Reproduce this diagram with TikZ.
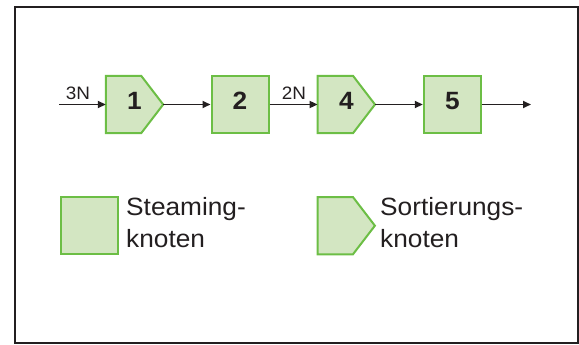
\documentclass[tikz,border=0pt]{standalone}
\usepackage{fontspec}
\setmainfont{Liberation Sans}[FakeStretch=1.05]
\usetikzlibrary{arrows.meta,backgrounds}
\definecolor{gfill}{HTML}{D3E6C2}
\definecolor{gline}{HTML}{6CBE45}
\definecolor{ink}{HTML}{231F20}
\tikzset{
  sqbox/.style={draw=gline, fill=gfill, line width=2pt, minimum size=57pt, inner sep=0pt,
    font=\fontsize{25}{25}\selectfont\bfseries, text=ink, text height=18pt, text depth=8pt},
  pentbox/.style={minimum width=57pt, minimum height=57pt, inner sep=0pt,
    font=\fontsize{25}{25}\selectfont\bfseries, text=ink, text height=18pt, text depth=8pt},
  pentline/.style={draw=gline, fill=gfill, line width=2pt, line join=miter},
  flow/.style={draw=ink, line width=1.8pt, -{Triangle[length=8pt,width=7pt]}},
  flowlab/.style={font=\fontsize{18}{18}\selectfont, text=ink, inner sep=0pt, anchor=base},
  legtext/.style={font=\fontsize{25}{32}\selectfont, text=ink, inner sep=0pt, anchor=base west,
    text width=170pt, align=left},
  frame/.style={draw=ink, line width=2pt}
}
\newcommand{\pentagonof}[1]{%
  \filldraw[pentline] (#1.north west) -- ([xshift=-22pt]#1.north east) -- (#1.east)
    -- ([xshift=-22pt]#1.south east) -- (#1.south west) -- cycle;}
\begin{document}
\begin{tikzpicture}[x=1pt,y=-1pt]
\useasboundingbox (0,0) rectangle (579,345);
\draw[frame] (15,7) rectangle (578,343);

\coordinate (start) at (59,104.5);
\node[pentbox] (n1) at (134.5,104.5) {1};
\node[sqbox] (n2) at (240,104.5) {2};
\node[pentbox] (n4) at (346.3,104.5) {4};
\node[sqbox] (n5) at (452.3,104.5) {5};
\coordinate (end) at (531,104.5);

\begin{scope}[on background layer]
\pentagonof{n1}
\pentagonof{n4}
\end{scope}

\draw[flow] (start) -- (n1.west);
\draw[flow] (n1.east) -- (n2.west);
\draw[flow] (n2.east) -- (n4.west);
\draw[flow] (n4.east) -- (n5.west);
\draw[flow] (n5.east) -- (end);

\node[flowlab] (l3) at (78,99.5) {3N};
\node[flowlab] (l2) at (294,99.5) {2N};

\node[sqbox] (leg1) at (89.3,225.7) {};
\node[pentbox] (leg2) at (346.2,225.7) {};
\begin{scope}[on background layer]
\pentagonof{leg2}
\end{scope}
\node[legtext] (t1) at (126,215.5) {Steaming-\\knoten};
\node[legtext] (t2) at (380,215.5) {Sortierungs-\\knoten};
\end{tikzpicture}
\end{document}
